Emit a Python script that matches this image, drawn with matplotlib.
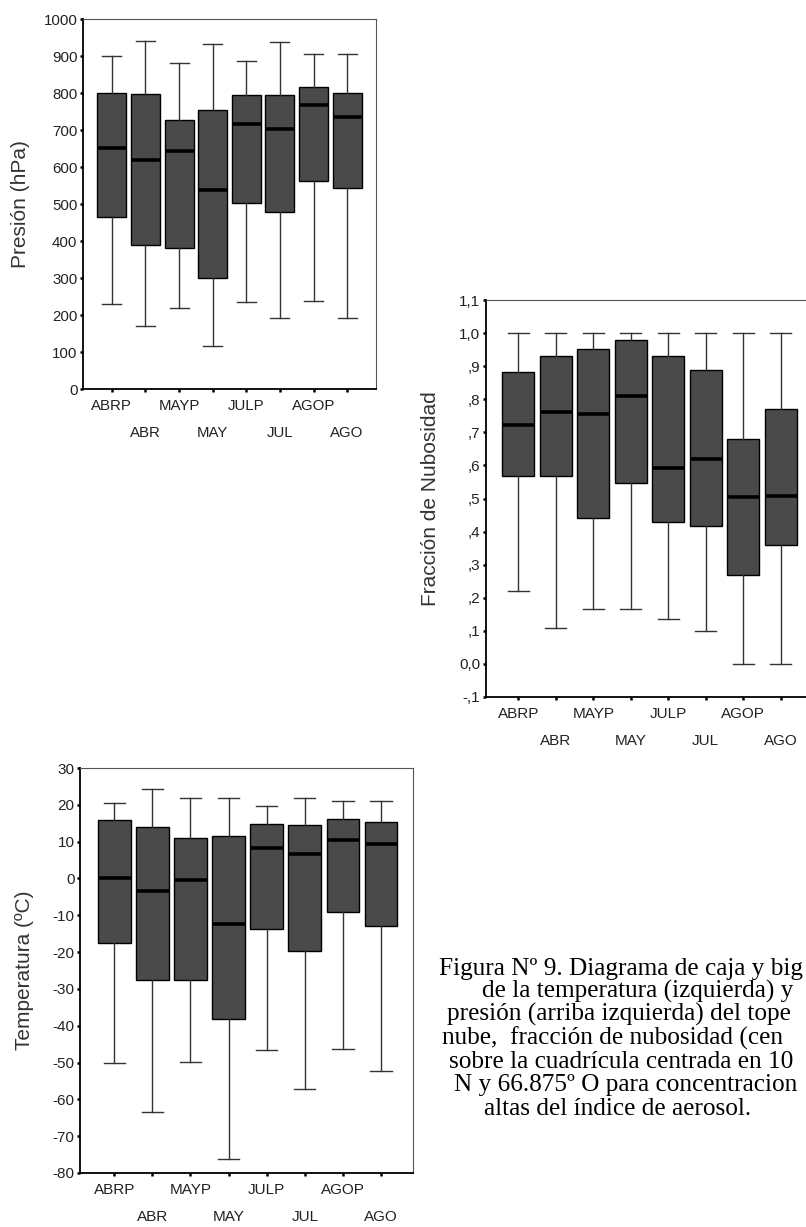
import matplotlib.pyplot as plt

plt.rcParams['font.family'] = ['Liberation Sans', 'DejaVu Sans']

meses = ['ABRP', 'ABR', 'MAYP', 'MAY', 'JULP', 'JUL', 'AGOP', 'AGO']

# presion del tope de nube (hPa)
pres_min = [229, 170, 219, 116, 235, 193, 238, 193]
pres_q1 = [466, 390, 381, 300, 503, 478, 563, 543]
pres_med = [652, 619, 642, 537, 716, 703, 768, 735]
pres_q3 = [801, 798, 726, 755, 795, 795, 817, 801]
pres_max = [900, 940, 880, 932, 886, 938, 906, 906]

# fraccion de nubosidad
nub_min = [0.219, 0.109, 0.167, 0.167, 0.136, 0.098, 0.0, 0.0]
nub_q1 = [0.567, 0.567, 0.442, 0.548, 0.429, 0.418, 0.270, 0.360]
nub_med = [0.721, 0.760, 0.755, 0.810, 0.591, 0.619, 0.505, 0.509]
nub_q3 = [0.881, 0.931, 0.952, 0.980, 0.931, 0.889, 0.679, 0.771]
nub_max = [1.0, 1.0, 1.0, 1.0, 1.0, 1.0, 1.0, 1.0]

# temperatura del tope de nube (ºC)
temp_min = [-50.2, -63.5, -49.9, -76.3, -46.6, -57.3, -46.2, -52.3]
temp_q1 = [-17.6, -27.7, -27.7, -38.1, -13.8, -19.8, -9.1, -12.9]
temp_med = [0.0, -3.5, -0.3, -12.5, 8.3, 6.7, 10.4, 9.4]
temp_q3 = [15.8, 14.0, 11.1, 11.4, 14.7, 14.4, 16.2, 15.4]
temp_max = [20.5, 24.4, 21.9, 21.9, 19.7, 21.9, 21.1, 21.1]

pres_ticks = [0, 100, 200, 300, 400, 500, 600, 700, 800, 900, 1000]
pres_labels = ['0', '100', '200', '300', '400', '500', '600', '700', '800', '900', '1000']
nub_ticks = [-0.1, 0.0, 0.1, 0.2, 0.3, 0.4, 0.5, 0.6, 0.7, 0.8, 0.9, 1.0, 1.1]
nub_labels = ['-,1', '0,0', ',1', ',2', ',3', ',4', ',5', ',6', ',7', ',8', ',9', '1,0', '1,1']
temp_ticks = [-80, -70, -60, -50, -40, -30, -20, -10, 0, 10, 20, 30]
temp_labels = ['-80', '-70', '-60', '-50', '-40', '-30', '-20', '-10', '0', '10', '20', '30']

caption = [
    'Figura Nº 9. Diagrama de caja y big',
    'de la temperatura (izquierda) y',
    'presión (arriba izquierda) del tope',
    'nube,  fracción de nubosidad (cen',
    'sobre la cuadrícula centrada en 10',
    'N y 66.875º O para concentracion',
    'altas del índice de aerosol.',
]

W, H = 806, 1227


def caja(ax, mins, q1, med, q3, maxs, ticks, labels, ylim, ylabel, labx, xlim, fs):
    '''Dibuja un diagrama de caja estilo SPSS.'''
    stats = []
    for i in range(len(meses)):
        stats.append({'whislo': mins[i], 'q1': q1[i], 'med': med[i],
                      'q3': q3[i], 'whishi': maxs[i], 'fliers': []})
    pos = list(range(1, len(meses) + 1))
    ax.bxp(stats, positions=pos, widths=0.86, capwidths=0.56,
           patch_artist=True, showfliers=False, manage_ticks=False,
           boxprops=dict(facecolor='#4a4a4a', edgecolor='black', linewidth=1.0),
           medianprops=dict(color='black', linewidth=2.6, solid_capstyle='butt'),
           whiskerprops=dict(color='#333333', linewidth=1.0),
           capprops=dict(color='#333333', linewidth=1.0))
    ax.set_xlim(*xlim)
    ax.set_ylim(*ylim)
    ax.set_yticks(ticks)
    ax.set_yticklabels(labels)
    ax.set_xticks(pos)
    ax.set_xticklabels(meses)
    for lado in ['left', 'bottom']:
        ax.spines[lado].set_color('black')
        ax.spines[lado].set_linewidth(1.3)
    for lado in ['top', 'right']:
        ax.spines[lado].set_color('#555555')
        ax.spines[lado].set_linewidth(0.8)
    ax.tick_params(axis='both', direction='out', length=2.5, width=1.8,
                   color='black', labelsize=fs, labelcolor='#222222')
    ax.tick_params(axis='y', pad=1.5)
    ax.tick_params(axis='x', pad=4.5)
    for t in ax.xaxis.get_major_ticks()[1::2]:
        t.set_pad(24)
    ax.set_ylabel(ylabel, fontsize=15, color='#333333', va='center')
    ax.yaxis.set_label_coords(labx, 0.5)


def rect(left, top, right, bottom):
    return [left / W, 1 - bottom / H, (right - left) / W, (bottom - top) / H]


fig = plt.figure(figsize=(W / 100, H / 100), dpi=100)

ax1 = fig.add_axes(rect(83, 19, 376, 389))
caja(ax1, pres_min, pres_q1, pres_med, pres_q3, pres_max,
     pres_ticks, pres_labels, (0, 1000), 'Presión (hPa)', -0.212,
     (0.14, 8.86), 10.8)

ax2 = fig.add_axes(rect(486, 300, 813, 697))
caja(ax2, nub_min, nub_q1, nub_med, nub_q3, nub_max,
     nub_ticks, nub_labels, (-0.1, 1.1), 'Fracción de Nubosidad', -0.171,
     (0.14, 8.86), 11)

ax3 = fig.add_axes(rect(80, 768, 413, 1173))
caja(ax3, temp_min, temp_q1, temp_med, temp_q3, temp_max,
     temp_ticks, temp_labels, (-80, 30), 'Temperatura (ºC)', -0.168,
     (0.1, 8.84), 11)

# pie de figura (el original queda recortado en el borde derecho)
xs = [439, 482, 447, 442, 449, 454, 484]
ys = [975, 998, 1021, 1045, 1068, 1091, 1115]
for s, x, y in zip(caption, xs, ys):
    fig.text(x / W, 1 - y / H, s, ha='left', va='baseline',
             family='Liberation Serif', fontsize=18.2, color='black')

fig.savefig('out.png', dpi=100)
